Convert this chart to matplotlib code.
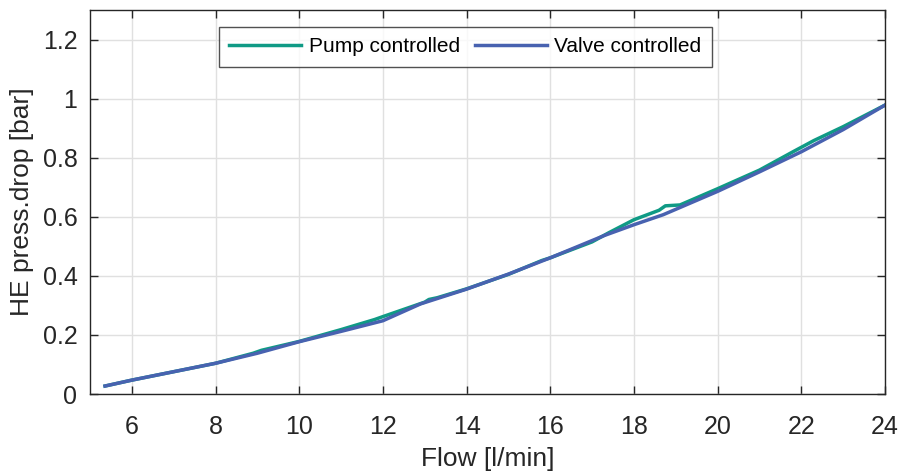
import matplotlib
matplotlib.use("Agg")
import matplotlib.pyplot as plt
from matplotlib.ticker import FuncFormatter

plt.rcParams['font.family'] = ['Liberation Sans', 'DejaVu Sans']

pump_flow = [5.36, 6.0, 8.0, 8.9, 9.1, 10.0, 11.0, 11.8, 12.0, 13.0, 13.1, 13.3, 14.0, 15.0, 15.8, 16.0, 17.0, 17.4, 18.0, 18.6, 18.75, 19.1, 20.0, 21.0, 21.8, 22.3, 23.0, 24.0]
pump_drop = [0.027, 0.047, 0.104, 0.138, 0.148, 0.178, 0.218, 0.252, 0.262, 0.311, 0.320, 0.326, 0.356, 0.405, 0.452, 0.461, 0.515, 0.546, 0.590, 0.622, 0.637, 0.640, 0.695, 0.758, 0.820, 0.858, 0.905, 0.978]

valve_flow = [5.36, 6.0, 8.0, 9.0, 10.0, 11.0, 12.0, 12.9, 14.0, 15.0, 16.0, 17.3, 18.0, 18.7, 20.0, 21.0, 22.0, 23.0, 24.0]
valve_drop = [0.027, 0.047, 0.104, 0.138, 0.177, 0.212, 0.248, 0.305, 0.355, 0.406, 0.461, 0.537, 0.573, 0.607, 0.686, 0.752, 0.820, 0.895, 0.978]

x_ticks = [6, 8, 10, 12, 14, 16, 18, 20, 22, 24]
y_ticks = [0, 0.2, 0.4, 0.6, 0.8, 1.0, 1.2]

fig = plt.figure(figsize=(9.04, 4.73), dpi=100)
ax = fig.add_axes([90/904, 1 - 394/473, (885-90)/904, (394-10)/473])

ax.plot(pump_flow, pump_drop, color='#0f9a85', lw=2.5, label='Pump controlled')
ax.plot(valve_flow, valve_drop, color='#4862b0', lw=2.5, label='Valve controlled')

ax.set_xlim(5, 24)
ax.set_ylim(0, 1.3)
ax.set_xticks(x_ticks)
ax.set_yticks(y_ticks)
ax.yaxis.set_major_formatter(FuncFormatter(lambda v, p: f"{v:g}"))
ax.grid(True, color='#e0e0e0', lw=1.0)
ax.set_axisbelow(True)
ax.tick_params(direction='in', length=6, width=1, labelsize=18, colors='#262626',
               top=True, right=True)
ax.tick_params(axis='x', pad=15)
ax.tick_params(axis='y', pad=9)
for s in ax.spines.values():
    s.set_color('#262626')
    s.set_linewidth(1.0)
ax.set_xlabel('Flow [l/min]', fontsize=19, color='#262626', labelpad=6)
ax.set_ylabel('HE press.drop [bar]', fontsize=19, color='#262626', labelpad=6)

leg = ax.legend(ncol=2, loc='upper left', bbox_to_anchor=((219-90)/795, (394-27)/384),
                fontsize=15, frameon=True, fancybox=False, edgecolor='#262626',
                handlelength=3.45, columnspacing=0.75, borderpad=0.5, handletextpad=0.35,
                borderaxespad=0)
leg.get_frame().set_linewidth(1.0)

fig.savefig('out.png', dpi=100)
